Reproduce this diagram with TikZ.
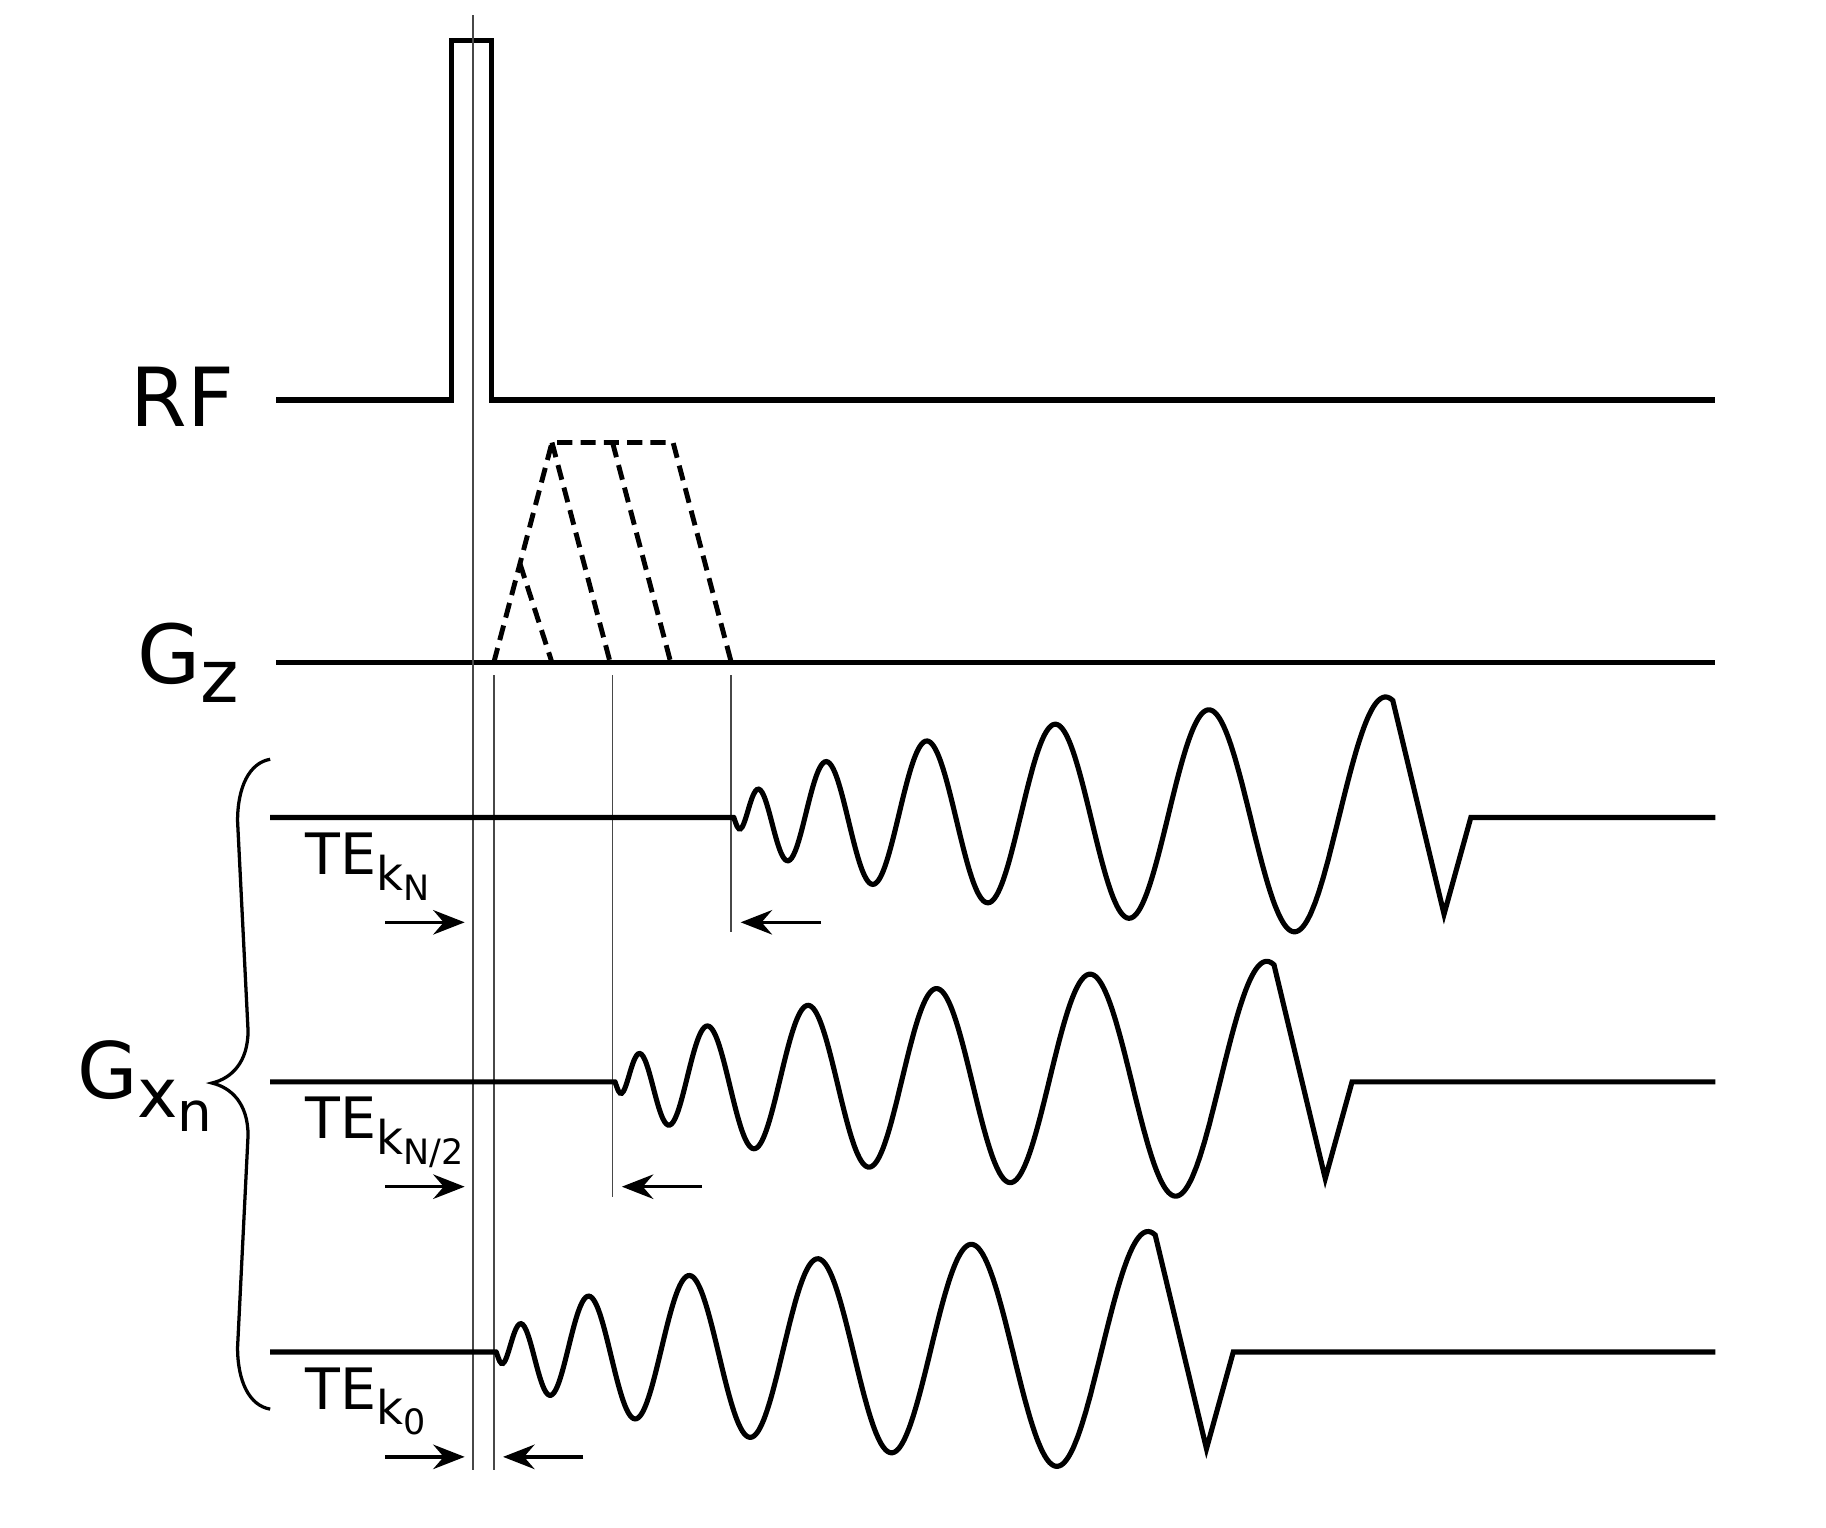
\documentclass[tikz,border=0pt]{standalone}
\usepackage{fontspec}
\setmainfont{DejaVu Sans}
\usepackage{tikz}
\usetikzlibrary{arrows.meta}
\tikzset{
  >={Stealth[length=27pt,width=21pt,inset=9pt]},
  sig/.style={draw=black,line width=4.4pt},
  grad/.style={draw=black,line width=4.2pt,dash pattern=on 13pt off 7pt},
  guide/.style={draw=black!72,line width=1.6pt},
  tearr/.style={->,draw=black,line width=3pt},
  lab/.style={inner sep=0pt,anchor=base west},
}
\newcommand{\lowered}[3]{\raisebox{-#1}{\fontsize{#2}{#2}\selectfont #3}}
\newcommand{\tek}[1]{\fontsize{49}{49}\selectfont TE\lowered{13.5pt}{40}{k\lowered{8.5pt}{30}{#1}}}

\begin{document}
\begin{tikzpicture}[x=1pt,y=-1pt]
\useasboundingbox (0,0) rectangle (1568,1312);
% RF pulse
\draw[sig] (237,343.5) -- (388,343.5) -- (388,35) -- (422,35) -- (422,343.5) -- (1473,343.5);
\node[lab] (rf) at (112,366.5) {\fontsize{70}{70}\selectfont RF};
% slice gradient, ramp-down variants dashed
\draw[sig] (237,569) -- (1473,569);
\draw[grad] (424,569) -- (474,380) -- (578,380) -- (628,569);
\draw[grad] (474,380) -- (524,569);
\draw[grad] (526,380) -- (576,569);
\draw[grad] (446.5,484) -- (474,569);
\node[lab] (gz) at (118,587) {\fontsize{70}{70}\selectfont G\lowered{16pt}{63}{z}};
% timing guides
\draw[guide] (406.5,13) -- (406.5,1262);
\draw[guide] (424,580) -- (424,1262);
\draw[guide] (526,580) -- (526,1028);
\draw[guide] (628,580) -- (628,800);
% spiral readouts, one per echo time
\foreach \s/\b/\k/\i in {630/702/N/1, 528/929/{N/2}/2, 426/1161/0/3}{
  \draw[sig] (232,\b) -- (\s,\b)
    -- plot[domain=0.2:566,samples=400,smooth]
       ({\s+\x},{\b-(12*(\x/20)^0.435+14.5*ln(1+\x/15.5))*sin(46.753*(\x^0.6-4.1))})
    -- ({\s+610},{\b+83}) -- ({\s+633},\b) -- (1473,\b);
  \node[lab] (te\i) at (262,{\b+49}) {\tek{\k}};
  \coordinate (inA\i) at (331,{\b+90});
  \coordinate (inB\i) at (399,{\b+90});
  \coordinate (outA\i) at ({\s+75},{\b+90});
  \coordinate (outB\i) at ({\s+6},{\b+90});
  \draw[tearr] (inA\i) -- (inB\i);
  \draw[tearr] (outA\i) -- (outB\i);
}
% brace over the readouts
\draw[line width=2.8pt] (232,652) .. controls (214,655) and (204,676) .. (204,705)
  -- (213,885) .. controls (213,912) and (199,926) .. (182,930)
  .. controls (199,934) and (213,948) .. (213,975)
  -- (204,1157) .. controls (204,1186) and (214,1207) .. (232,1210);
\node[lab] (gx) at (66,943) {\fontsize{67}{67}\selectfont G\lowered{16.5pt}{58.6}{x\lowered{12.3pt}{47}{n}}};
\end{tikzpicture}
\end{document}
